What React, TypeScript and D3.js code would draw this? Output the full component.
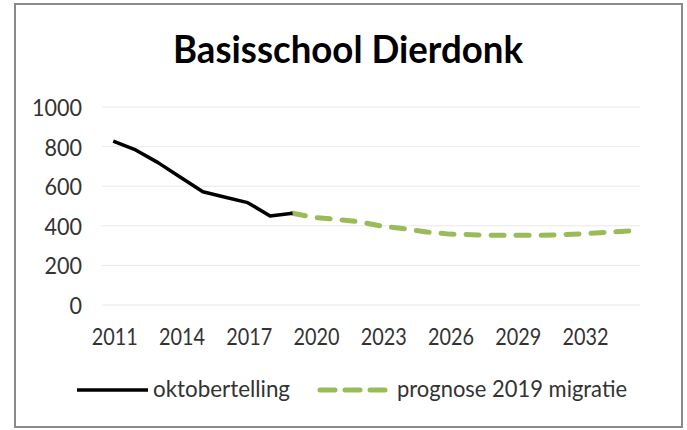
import React from 'react';
import * as d3 from 'd3';

const categories = ['2011','2012','2013','2014','2015','2016','2017','2018','2019','2020','2021','2022','2023','2024','2025','2026','2027','2028','2029','2030','2031','2032','2033','2034'];
const oktobertelling: (number | null)[] = [828, 783, 719, 645, 572, 544, 517, 450, 463, null, null, null, null, null, null, null, null, null, null, null, null, null, null, null];
const prognose: (number | null)[] = [null, null, null, null, null, null, null, null, 463, 442, 432, 420, 398, 385, 369, 358, 355, 352, 352, 352, 355, 360, 367, 374];
const yTicks = [0, 200, 400, 600, 800, 1000];
const xTickLabels = ['2011','2014','2017','2020','2023','2026','2029','2032'];
const seriesNames = ['oktobertelling', 'prognose 2019 migratie'];

const FONT = "Lato, 'Open Sans', sans-serif";

export default function App() {
  const x = d3.scaleBand<string>().domain(categories).range([102, 640]);
  const y = d3.scaleLinear().domain([0, 1000]).range([305, 107]);
  const cx = (c: string) => (x(c) as number) + x.bandwidth() / 2;

  const line = d3.line<[string, number | null]>()
    .defined(d => d[1] !== null)
    .x(d => cx(d[0]))
    .y(d => y(d[1] as number));

  const blackPath = line(categories.map((c, i) => [c, oktobertelling[i]]));
  const greenPath = line(categories.map((c, i) => [c, prognose[i]]));

  const green = '#9BBB59';
  const textColor = '#333333';

  return (
    <svg width={687} height={430} style={{ position: 'absolute', left: 0, top: 0, background: '#fff' }}>
      <rect x={15} y={4} width={667} height={423} fill="#fff" stroke="#8a8a8a" strokeWidth={2} />
      <text x={348} y={63} textAnchor="middle" fontFamily={FONT} fontWeight={700} fontSize={38}
        textLength={350} lengthAdjust="spacingAndGlyphs" fill="#000">Basisschool Dierdonk</text>

      {yTicks.map(t => (
        <g key={t}>
          <line x1={102} x2={640} y1={y(t)} y2={y(t)} stroke="#e8e8e8" strokeWidth={1} />
          <text x={82} y={y(t) + 9} textAnchor="end" fontFamily={FONT} fontSize={23} fill={textColor}
            textLength={String(t).length * 12.5} lengthAdjust="spacingAndGlyphs">{t}</text>
        </g>
      ))}

      {xTickLabels.map(l => (
        <text key={l} x={cx(l) + 1.5} y={345} textAnchor="middle" fontFamily={FONT} fontSize={23}
          textLength={46} lengthAdjust="spacingAndGlyphs" fill={textColor}>{l}</text>
      ))}

      <path d={greenPath || ''} fill="none" stroke={green} strokeWidth={5} strokeDasharray="13 12" strokeLinecap="round" strokeLinejoin="round" />
      <path d={blackPath || ''} fill="none" stroke="#000" strokeWidth={3.5} strokeLinejoin="round" />

      <line x1={77} x2={148} y1={390} y2={390} stroke="#000" strokeWidth={3.5} />
      <text x={153} y={397} fontFamily={FONT} fontSize={23} textLength={137} lengthAdjust="spacingAndGlyphs" fill={textColor}>{seriesNames[0]}</text>
      <line x1={320} x2={386} y1={390} y2={390} stroke={green} strokeWidth={5} strokeDasharray="15 10" strokeLinecap="round" />
      <text x={397} y={397} fontFamily={FONT} fontSize={23} textLength={230} lengthAdjust="spacingAndGlyphs" fill={textColor}>{seriesNames[1]}</text>
    </svg>
  );
}
